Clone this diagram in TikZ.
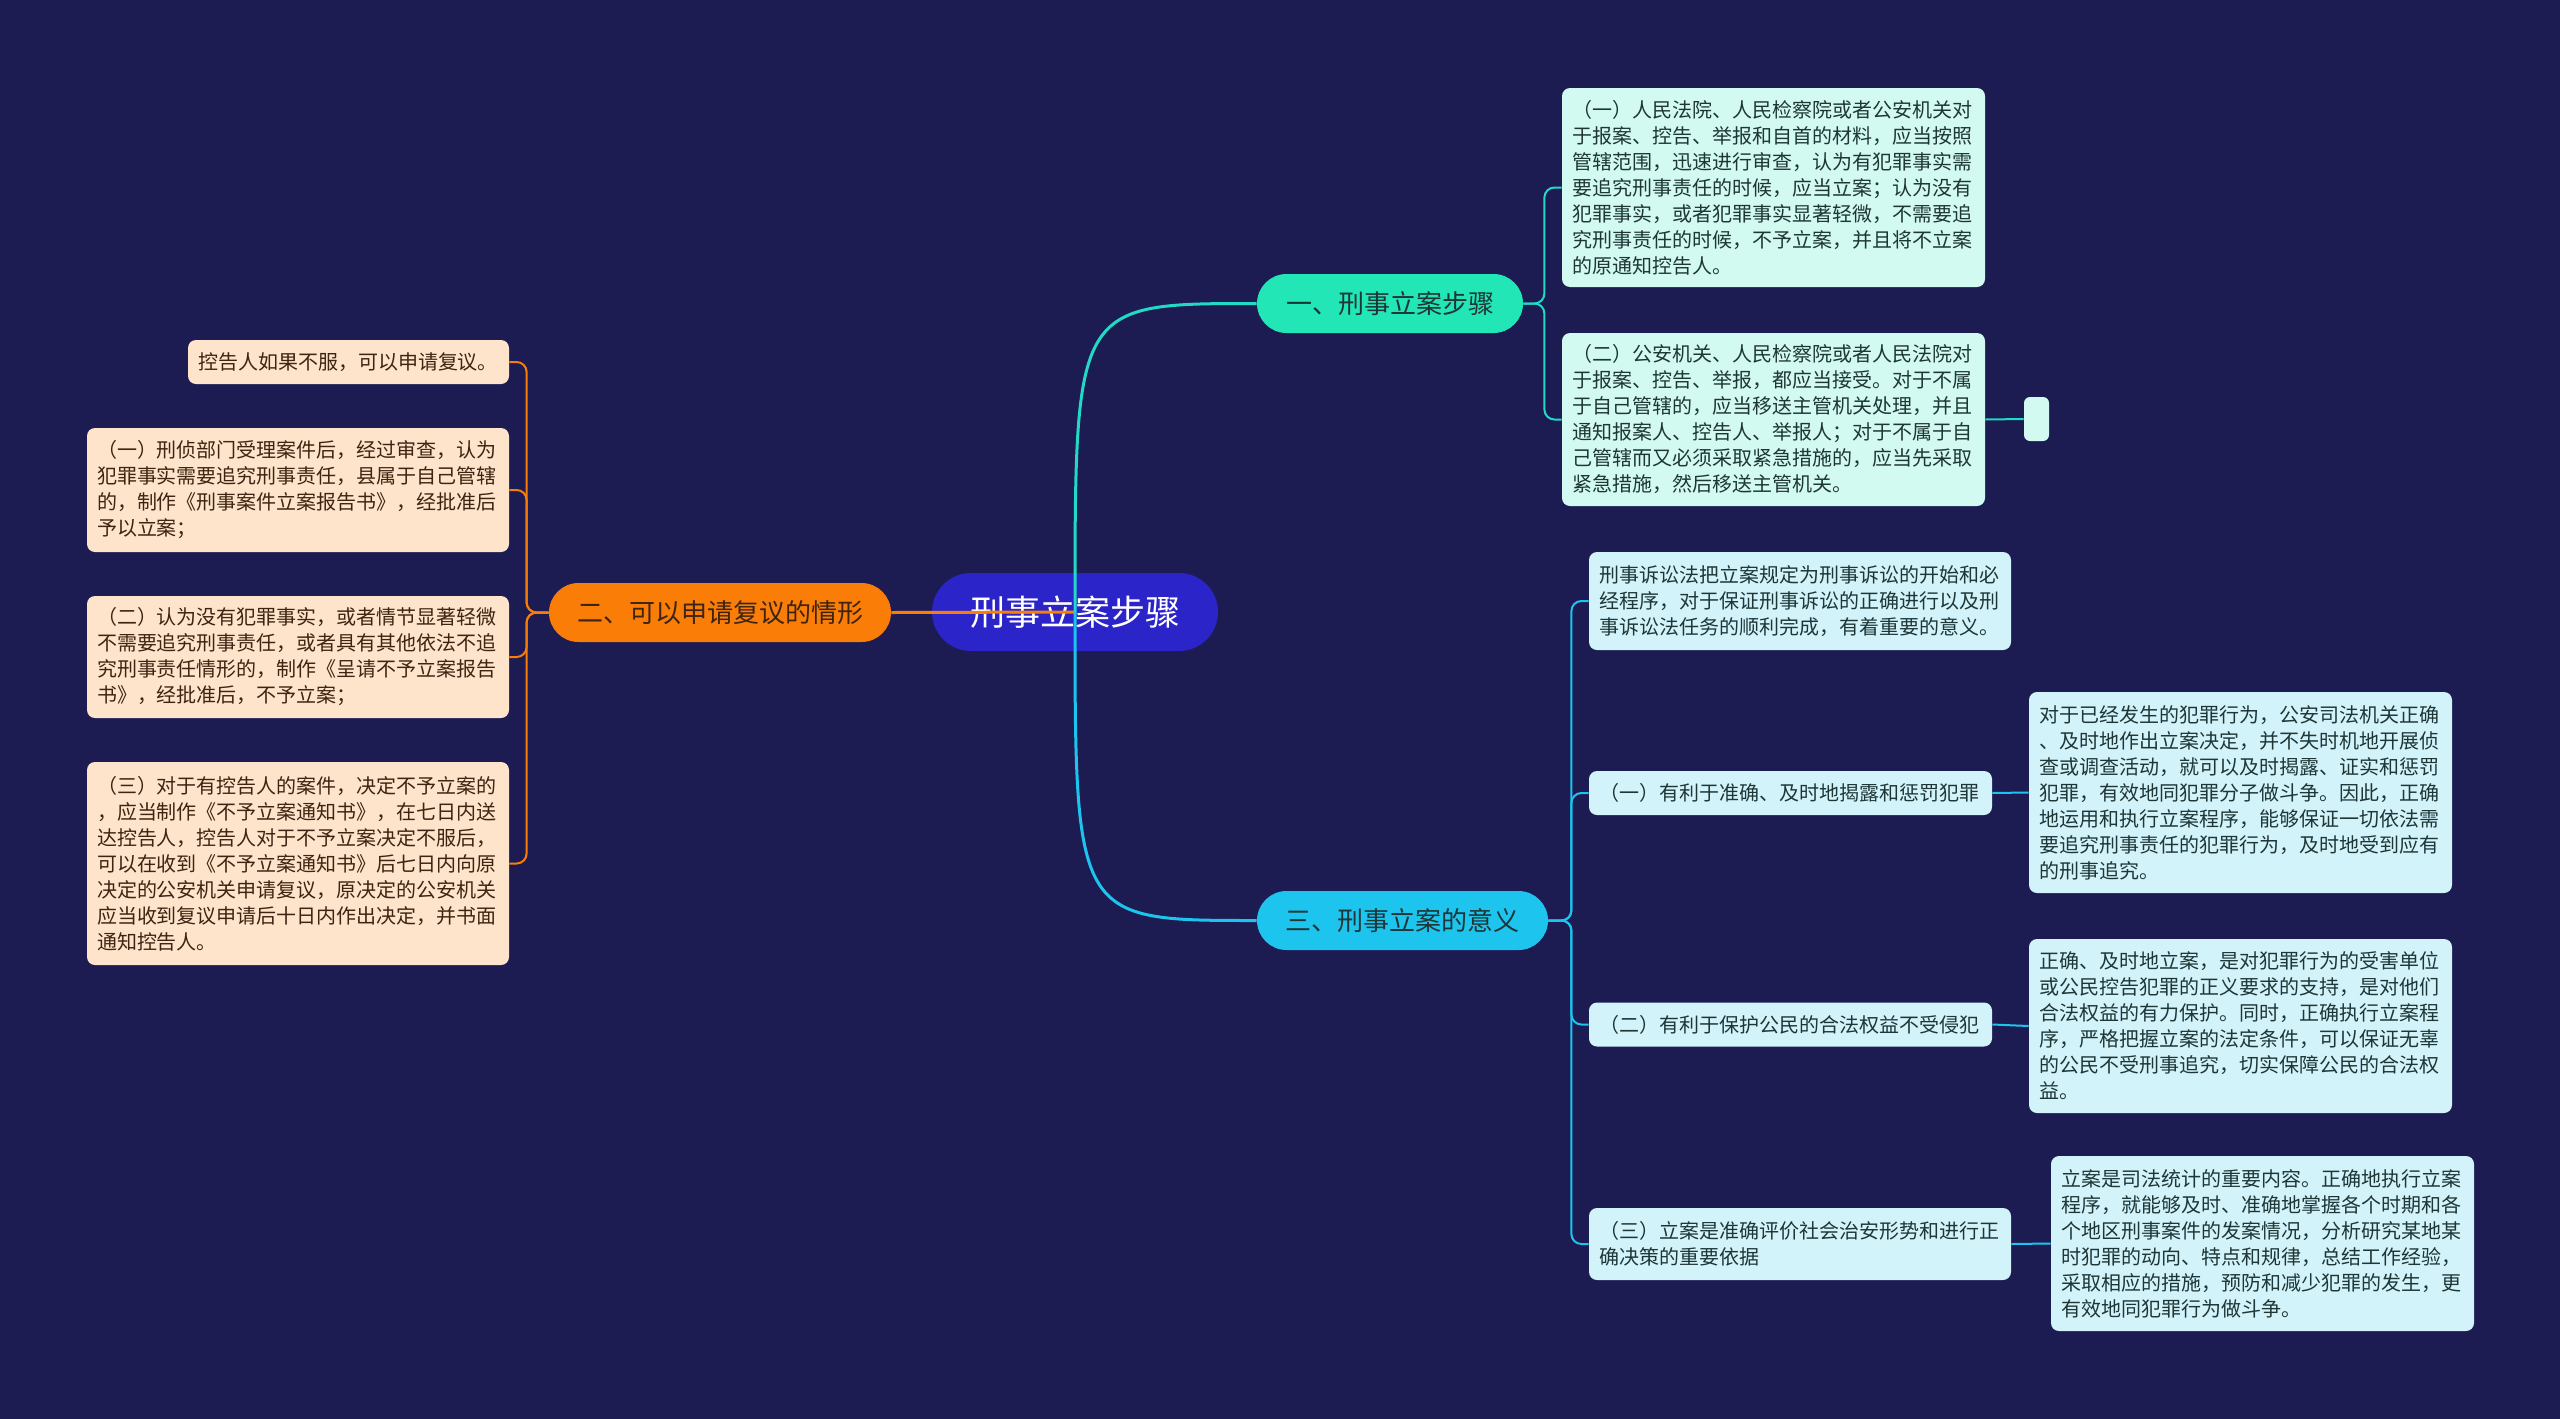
\documentclass[tikz,border=0pt]{standalone}
\usepackage{fontspec}
\newfontfamily\cjk{Noto Sans CJK SC}
\usetikzlibrary{calc}
\definecolor{bgnavy}{HTML}{1C1B52}
\definecolor{rootblue}{HTML}{2B24C9}
\definecolor{orangemain}{HTML}{FA7D08}
\definecolor{orangeleaf}{HTML}{FDE4CA}
\definecolor{orangetext}{HTML}{3E2412}
\definecolor{mintmain}{HTML}{22E6B6}
\definecolor{mintline}{HTML}{22D9C6}
\definecolor{mintleaf}{HTML}{D2FAF0}
\definecolor{cyanmain}{HTML}{1DC5EE}
\definecolor{cyanleaf}{HTML}{D3F3FB}
\definecolor{leaftext}{HTML}{1E3636}
\tikzset{
	leafbox/.style={rounded corners=4pt, inner xsep=5pt, inner ysep=2pt, align=left, text width=#1, font=\cjk\fontsize{10}{13}\selectfont},
	mleaf/.style={leafbox=#1, fill=mintleaf, text=leaftext},
	cleaf/.style={leafbox=#1, fill=cyanleaf, text=leaftext},
	oleaf/.style={leafbox=#1, fill=orangeleaf, text=orangetext},
	pill/.style={rounded corners=14.75pt, minimum height=29.5pt, inner sep=0pt, font=\cjk\fontsize{13}{15}\selectfont},
	trunk/.style={line width=1.5pt},
	twig/.style={line width=1pt, rounded corners=5pt}
}

\begin{document}
\begin{tikzpicture}[x=0.5pt, y=-0.5pt]
		%%%%% START %%%%%
		\fill[bgnavy] (0,0) rectangle (2560,1419);
		
		% centre and main branches
		\node[rounded corners=19.5pt, minimum width=143pt, minimum height=39pt, fill=rootblue, text=white, font=\cjk\fontsize{17.5}{20}\selectfont] (root) at (1075,612) {刑事立案步骤};
		\node[pill, minimum width=171pt, fill=orangemain, text=orangetext] (review) at (720,612.5) {二、可以申请复议的情形};
		\node[pill, minimum width=133pt, fill=mintmain, text=leaftext] (steps) at (1390,303.5) {一、刑事立案步骤};
		\node[pill, minimum width=145.5pt, fill=cyanmain, text=leaftext] (meaning) at (1402.5,920.5) {三、刑事立案的意义};
		
		% steps
		\node[mleaf=201.5pt, minimum height=99.5pt] (stepa) at (1773.5,187.5) {（一）人民法院、人民检察院或者公安机关对\\于报案、控告、举报和自首的材料，应当按照\\管辖范围，迅速进行审查，认为有犯罪事实需\\要追究刑事责任的时候，应当立案；认为没有\\犯罪事实，或者犯罪事实显著轻微，不需要追\\究刑事责任的时候，不予立案，并且将不立案\\的原通知控告人。};
		\node[mleaf=201.5pt, minimum height=86.5pt] (stepb) at (1773.5,419.5) {（二）公安机关、人民检察院或者人民法院对\\于报案、控告、举报，都应当接受。对于不属\\于自己管辖的，应当移送主管机关处理，并且\\通知报案人、控告人、举报人；对于不属于自\\己管辖而又必须采取紧急措施的，应当先采取\\紧急措施，然后移送主管机关。};
		\node[rounded corners=3pt, fill=mintleaf, minimum width=12.5pt, minimum height=22pt, inner sep=0pt] (stepc) at (2036.5,419) {};
		
		% meaning
		\node[cleaf=201pt, minimum height=49pt] (mean0) at (1800,601) {刑事诉讼法把立案规定为刑事诉讼的开始和必\\经程序，对于保证刑事诉讼的正确进行以及刑\\事诉讼法任务的顺利完成，有着重要的意义。};
		\node[cleaf=191.5pt, minimum height=22pt] (mean1) at (1790.5,793) {（一）有利于准确、及时地揭露和惩罚犯罪};
		\node[cleaf=191.5pt, minimum height=22pt] (mean2) at (1790.5,1024.5) {（二）有利于保护公民的合法权益不受侵犯};
		\node[cleaf=201pt, minimum height=36pt] (mean3) at (1800,1244) {（三）立案是准确评价社会治安形势和进行正\\确决策的重要依据};
		\node[cleaf=201.5pt, minimum height=100.5pt] (why1) at (2240.5,792.5) {对于已经发生的犯罪行为，公安司法机关正确\\、及时地作出立案决定，并不失时机地开展侦\\查或调查活动，就可以及时揭露、证实和惩罚\\犯罪，有效地同犯罪分子做斗争。因此，正确\\地运用和执行立案程序，能够保证一切依法需\\要追究刑事责任的犯罪行为，及时地受到应有\\的刑事追究。};
		\node[cleaf=201.5pt, minimum height=87pt] (why2) at (2240.5,1026) {正确、及时地立案，是对犯罪行为的受害单位\\或公民控告犯罪的正义要求的支持，是对他们\\合法权益的有力保护。同时，正确执行立案程\\序，严格把握立案的法定条件，可以保证无辜\\的公民不受刑事追究，切实保障公民的合法权\\益。};
		\node[cleaf=201.5pt, minimum height=87.5pt] (why3) at (2262.5,1243.5) {立案是司法统计的重要内容。正确地执行立案\\程序，就能够及时、准确地掌握各个时期和各\\个地区刑事案件的发案情况，分析研究某地某\\时犯罪的动向、特点和规律，总结工作经验，\\采取相应的措施，预防和减少犯罪的发生，更\\有效地同犯罪行为做斗争。};
		
		% review
		\node[oleaf=150.5pt, minimum height=22pt] (rev0) at (348.5,362) {控告人如果不服，可以申请复议。};
		\node[oleaf=201pt, minimum height=62pt] (rev1) at (298,490) {（一）刑侦部门受理案件后，经过审查，认为\\犯罪事实需要追究刑事责任，县属于自己管辖\\的，制作《刑事案件立案报告书》，经批准后\\予以立案；};
		\node[oleaf=201pt, minimum height=61pt] (rev2) at (298,657) {（二）认为没有犯罪事实，或者情节显著轻微\\不需要追究刑事责任，或者具有其他依法不追\\究刑事责任情形的，制作《呈请不予立案报告\\书》，经批准后，不予立案；};
		\node[oleaf=201pt, minimum height=101.5pt] (rev3) at (298,863.5) {（三）对于有控告人的案件，决定不予立案的\\，应当制作《不予立案通知书》，在七日内送\\达控告人，控告人对于不予立案决定不服后，\\可以在收到《不予立案通知书》后七日内向原\\决定的公安机关申请复议，原决定的公安机关\\应当收到复议申请后十日内作出决定，并书面\\通知控告人。};
		
		% connectors
		\draw[trunk, orangemain] (root.center) -- (review.east);
		\draw[trunk, mintline] (root.center) .. controls (root.center |- steps.west) and (root.center |- steps.west) .. (steps.west);
		\draw[trunk, cyanmain] (root.center) .. controls (root.center |- meaning.west) and (root.center |- meaning.west) .. (meaning.west);
		
		\coordinate (stepsfork) at ([xshift=10.5pt]steps.east);
		\foreach \leaf in {stepa,stepb}
			\draw[twig, mintline] (steps.east) -- (stepsfork) |- (\leaf.west);
		\draw[twig, mintline] (stepb.east) -- (stepc.west);
		
		\coordinate (meaningfork) at ([xshift=11.5pt]meaning.east);
		\foreach \leaf in {mean0,mean1,mean2,mean3}
			\draw[twig, cyanmain] (meaning.east) -- (meaningfork) |- (\leaf.west);
		\draw[twig, cyanmain] (mean1.east) -- (why1.west);
		\draw[twig, cyanmain] (mean2.east) -- (why2.west);
		\draw[twig, cyanmain] (mean3.east) -- (why3.west);
		
		\coordinate (reviewfork) at ([xshift=-11pt]review.west);
		\foreach \leaf in {rev0,rev1,rev2,rev3}
			\draw[twig, orangemain] (review.west) -- (reviewfork) |- (\leaf.east);
		%%%%% END %%%%%
\end{tikzpicture}
\end{document}
